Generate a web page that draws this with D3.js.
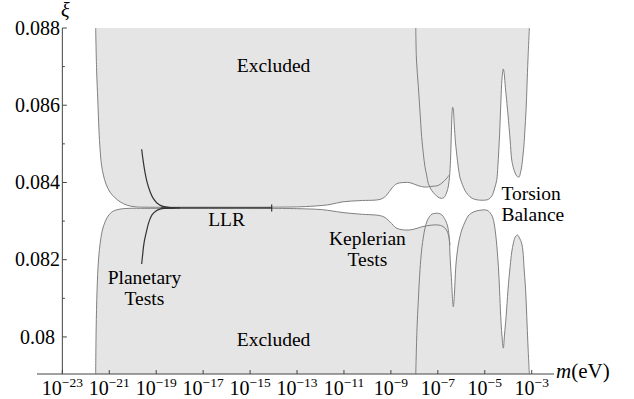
<!DOCTYPE html>
<html>
<head>
<meta charset="utf-8">
<script src="https://cdn.jsdelivr.net/npm/d3@7"></script>
<style>
  body { margin: 0; background: #fff; }
  svg text { fill: #000; }
</style>
</head>
<body>
<div id="chart"></div>
<script>
// every curve is a list of [log10(m / eV), xi]

// LLR + Keplerian exclusion, upper and lower boundary
var llrUpper = [
    [-21.58, 0.08800], [-21.54, 0.08691], [-21.49, 0.08614], [-21.44, 0.08536],
    [-21.39, 0.08484], [-21.33, 0.08445], [-21.25, 0.08419], [-21.14, 0.08396],
    [-20.97, 0.08375], [-20.75, 0.08360], [-20.54, 0.08350], [-20.24, 0.08341],
    [-19.90, 0.08337], [-19.48, 0.08336], [-17.13, 0.08336], [-14.15, 0.08336],
    [-12.87, 0.08337], [-12.02, 0.08340], [-11.59, 0.08343], [-11.04, 0.08350],
    [-10.32, 0.08353], [-9.42, 0.08357], [-9.17, 0.08368], [-8.95, 0.08386],
    [-8.74, 0.08397], [-8.40, 0.08400], [-8.19, 0.083995], [-7.85, 0.08392],
    [-7.55, 0.08388], [-7.25, 0.08390], [-6.99, 0.08392], [-6.78, 0.08401],
    [-6.65, 0.08409], [-6.52, 0.08419]
];
var llrLower = [
    [-21.58, 0.07904], [-21.56, 0.08018], [-21.52, 0.08122], [-21.46, 0.08199],
    [-21.37, 0.08251], [-21.27, 0.08282], [-21.10, 0.08308], [-20.88, 0.08324],
    [-20.54, 0.08331], [-20.12, 0.08333], [-19.48, 0.08333], [-17.13, 0.08333],
    [-14.15, 0.08333], [-12.87, 0.08332], [-12.02, 0.08330], [-11.59, 0.08327],
    [-11.04, 0.08322], [-10.32, 0.08318], [-9.34, 0.08312], [-9.04, 0.08298],
    [-8.74, 0.08281], [-8.19, 0.08277], [-7.85, 0.08282], [-7.63, 0.08286],
    [-7.33, 0.08289], [-6.99, 0.08290], [-6.78, 0.08286], [-6.63, 0.08277],
    [-6.54, 0.08262], [-6.48, 0.08238]
];

// torsion balance exclusion
var torsionUpper = [
    [-7.94, 0.08800], [-7.91, 0.08717], [-7.83, 0.08648], [-7.76, 0.08583],
    [-7.69, 0.08519], [-7.62, 0.08476], [-7.55, 0.08441], [-7.47, 0.08417],
    [-7.41, 0.08398], [-7.26, 0.08379], [-7.12, 0.08369], [-6.99, 0.08362],
    [-6.86, 0.08359], [-6.74, 0.08361], [-6.63, 0.08373], [-6.55, 0.08391],
    [-6.50, 0.08417], [-6.46, 0.08458], [-6.42, 0.08536], [-6.39, 0.08583],
    [-6.37, 0.08595], [-6.34, 0.08588], [-6.30, 0.08549], [-6.25, 0.08505],
    [-6.20, 0.08476], [-6.13, 0.08440], [-6.06, 0.08414], [-5.95, 0.08394],
    [-5.84, 0.08379], [-5.71, 0.08368], [-5.54, 0.08359], [-5.33, 0.08355],
    [-5.12, 0.08354], [-4.90, 0.08355], [-4.78, 0.08359], [-4.67, 0.08368],
    [-4.59, 0.08383], [-4.49, 0.08406], [-4.44, 0.08445], [-4.37, 0.08523],
    [-4.31, 0.08614], [-4.27, 0.08665], [-4.21, 0.08694], [-4.17, 0.08681],
    [-4.12, 0.08645], [-4.07, 0.08614], [-4.01, 0.08575], [-3.92, 0.08510],
    [-3.85, 0.08458], [-3.78, 0.08438], [-3.71, 0.08425], [-3.63, 0.08416],
    [-3.54, 0.08414], [-3.48, 0.08425], [-3.43, 0.08440], [-3.37, 0.08471],
    [-3.33, 0.08497], [-3.29, 0.08536], [-3.24, 0.08588], [-3.20, 0.08652],
    [-3.16, 0.08717], [-3.10, 0.08800]
];
var torsionLower = [
    [-7.94, 0.07904], [-7.89, 0.08018], [-7.83, 0.08096], [-7.76, 0.08174],
    [-7.69, 0.08225], [-7.61, 0.08261], [-7.55, 0.08281], [-7.46, 0.08300],
    [-7.36, 0.08311], [-7.25, 0.08318], [-7.12, 0.08320], [-6.97, 0.08320],
    [-6.83, 0.08316], [-6.72, 0.08307], [-6.62, 0.08294], [-6.56, 0.08280],
    [-6.52, 0.08260], [-6.47, 0.08199], [-6.41, 0.08140], [-6.38, 0.08104],
    [-6.34, 0.08078], [-6.30, 0.08104], [-6.27, 0.08140], [-6.23, 0.08186],
    [-6.13, 0.08238], [-5.98, 0.08277], [-5.84, 0.08298], [-5.71, 0.08313],
    [-5.56, 0.08321], [-5.37, 0.08326], [-5.20, 0.08328], [-5.03, 0.08329],
    [-4.90, 0.08328], [-4.78, 0.08322], [-4.67, 0.08311], [-4.59, 0.08290],
    [-4.51, 0.08251], [-4.42, 0.08182], [-4.37, 0.08122], [-4.32, 0.08053],
    [-4.27, 0.08005], [-4.21, 0.07971], [-4.16, 0.08005], [-4.09, 0.08053],
    [-4.01, 0.08122], [-3.92, 0.08182], [-3.85, 0.08220], [-3.78, 0.08243],
    [-3.70, 0.08259], [-3.61, 0.08264], [-3.52, 0.08256], [-3.43, 0.08243],
    [-3.37, 0.08220], [-3.33, 0.08182], [-3.26, 0.08122], [-3.21, 0.08053],
    [-3.16, 0.07979], [-3.10, 0.07904]
];

// planetary tests and LLR (dark lines)
var planetaryUpper = [
    [-19.62, 0.08486], [-19.56, 0.08458], [-19.48, 0.08427], [-19.39, 0.08401],
    [-19.26, 0.08376], [-19.14, 0.08360], [-18.97, 0.08347], [-18.71, 0.08338],
    [-18.41, 0.08335], [-17.99, 0.08334]
];
var planetaryLower = [
    [-19.62, 0.08189], [-19.58, 0.08212], [-19.52, 0.08243], [-19.40, 0.08277],
    [-19.31, 0.08298], [-19.18, 0.08316], [-19.01, 0.08326], [-18.84, 0.08331],
    [-18.58, 0.08333], [-18.20, 0.08334]
];
var llrLine = [[-18.80, 0.08334], [-14.08, 0.08334]];
var llrEnd = [[-14.08, 0.08343], [-14.08, 0.08325]];

var xTicks = [-23, -21, -19, -17, -15, -13, -11, -9, -7, -5, -3];
var yTicks = [0.08, 0.082, 0.084, 0.086, 0.088];
var yMinorTicks = [0.081, 0.083, 0.085, 0.087];

// annotation text, anchored at [log10 m, xi] of the first baseline
var labels = [
    { lines: ["Excluded"], x: -14.0, y: 0.08686, anchor: "middle" },
    { lines: ["Excluded"], x: -14.0, y: 0.07977, anchor: "middle" },
    { lines: ["LLR"], x: -16.0, y: 0.08287, anchor: "middle" },
    { lines: ["Planetary", "Tests"], x: -19.5, y: 0.08137, anchor: "middle" },
    { lines: ["Keplerian", "Tests"], x: -10.0, y: 0.08238, anchor: "middle" },
    { lines: ["Torsion", "Balance"], x: -4.29, y: 0.08355, anchor: "start" }
];

var serif = "Liberation Serif, Tinos, Nimbus Roman, FreeSerif, Times New Roman, Times, serif";

var svg = d3.select("#chart").append("svg")
    .attr("width", 634)
    .attr("height", 399)
    .style("font-family", serif);

var x = d3.scaleLinear().domain([-24.08, -2.05]).range([37, 554]);
var y = d3.scaleLinear().domain([0.07904, 0.088]).range([374, 28]);

var fillColor = "#e5e5e5";
var edgeColor = "#808080";

var line = d3.line()
    .curve(d3.curveCatmullRom.alpha(0.5))
    .x(function (d) { return x(d[0]) })
    .y(function (d) { return y(d[1]) });

function upperArea() {
    return d3.area()
        .curve(d3.curveCatmullRom.alpha(0.5))
        .x(function (d) { return x(d[0]) })
        .y0(y(0.088))
        .y1(function (d) { return y(d[1]) });
}
function lowerArea() {
    return d3.area()
        .curve(d3.curveCatmullRom.alpha(0.5))
        .x(function (d) { return x(d[0]) })
        .y0(y(0.07904))
        .y1(function (d) { return y(d[1]) });
}

// fills first, every edge drawn after
var fills = svg.append("g");
[llrUpper, torsionUpper].forEach(function (c) {
    fills.append("path").datum(c).attr("fill", fillColor).attr("d", upperArea());
});
[llrLower, torsionLower].forEach(function (c) {
    fills.append("path").datum(c).attr("fill", fillColor).attr("d", lowerArea());
});

var edges = svg.append("g").attr("fill", "none");
[llrUpper, llrLower, torsionUpper, torsionLower].forEach(function (c) {
    edges.append("path").datum(c)
        .attr("stroke", edgeColor)
        .attr("stroke-width", 1)
        .attr("d", line);
});
[planetaryUpper, planetaryLower, llrLine, llrEnd].forEach(function (c) {
    edges.append("path").datum(c)
        .attr("stroke", "#333")
        .attr("stroke-width", 1.2)
        .attr("d", line);
});

// axes, drawn by hand in the Mathematica style
var axisColor = "#444";
var axes = svg.append("g");
axes.append("line")
    .attr("x1", 37).attr("x2", 554)
    .attr("y1", y(0.07904)).attr("y2", y(0.07904))
    .attr("stroke", axisColor);
axes.append("line")
    .attr("x1", x(-23)).attr("x2", x(-23))
    .attr("y1", y(0.088)).attr("y2", y(0.07904))
    .attr("stroke", axisColor);

xTicks.forEach(function (v) {
    axes.append("line")
        .attr("x1", x(v)).attr("x2", x(v))
        .attr("y1", y(0.07904)).attr("y2", y(0.07904) - 4)
        .attr("stroke", axisColor);
    var t = axes.append("text")
        .attr("x", x(v))
        .attr("y", 395)
        .attr("text-anchor", "middle")
        .style("font-size", "20px");
    t.append("tspan").text("10");
    t.append("tspan").attr("dy", -8).style("font-size", "13.5px").text("\u2212" + Math.abs(v));
});

yTicks.forEach(function (v) {
    axes.append("line")
        .attr("x1", x(-23)).attr("x2", x(-23) + 4.5)
        .attr("y1", y(v)).attr("y2", y(v))
        .attr("stroke", axisColor);
    axes.append("text")
        .attr("x", 37.5)
        .attr("y", y(v))
        .attr("dy", "0.33em")
        .attr("text-anchor", "middle")
        .style("font-size", "20px")
        .text(d3.format(".3~f")(v));
});
yMinorTicks.forEach(function (v) {
    axes.append("line")
        .attr("x1", x(-23)).attr("x2", x(-23) + 2.5)
        .attr("y1", y(v)).attr("y2", y(v))
        .attr("stroke", axisColor);
});

svg.append("text")
    .attr("x", 61).attr("y", 17)
    .style("font-size", "20px")
    .style("font-style", "italic")
    .text("\u03be");

var mLabel = svg.append("text")
    .attr("x", 556).attr("y", 378)
    .style("font-size", "21px");
mLabel.append("tspan").style("font-style", "italic").text("m");
mLabel.append("tspan").text("(eV)");

labels.forEach(function (l) {
    l.lines.forEach(function (s, i) {
        svg.append("text")
            .attr("x", x(l.x))
            .attr("y", y(l.y) + i * 21)
            .attr("text-anchor", l.anchor)
            .style("font-size", "19.5px")
            .text(s);
    });
});
</script>
</body>
</html>
